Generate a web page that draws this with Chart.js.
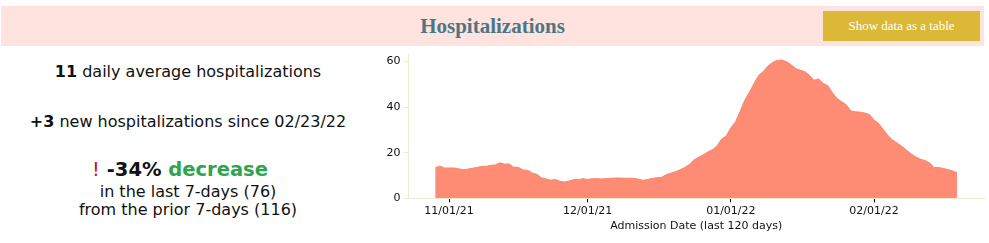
<!DOCTYPE html>
<html>
<head>
<meta charset="utf-8">
<title>Hospitalizations</title>
<script src="https://cdn.jsdelivr.net/npm/chart.js@4.4.1/dist/chart.umd.min.js"></script>
<style>
    body {
        margin: 0;
        width: 989px;
        height: 243px;
        background: #fff;
        position: relative;
        overflow: hidden;
        font-family: 'DejaVu Sans', Verdana, sans-serif;
        color: #111;
    }
    .header {
        position: absolute;
        left: 1px;
        top: 6px;
        width: 983px;
        height: 40px;
        background: #fee3de;
    }
    .header h2 {
        margin: 0;
        text-align: center;
        line-height: 40px;
        font: bold 21px/40px 'Liberation Serif', serif;
        color: #4d7584;
    }
    .table-btn {
        position: absolute;
        left: 822px;
        top: 5px;
        width: 157px;
        height: 30px;
        background: #dbb835;
        color: #fff;
        text-align: center;
        font: 13px/30px 'Liberation Serif', serif;
    }
    .stat {
        position: absolute;
        left: 0;
        width: 376px;
        text-align: center;
        font-size: 16px;
        line-height: 20px;
    }
    .stat b { font-weight: bold; }
    .big { width: 360px; font-size: 19.5px; line-height: 24px; font-weight: bold; }
    .alert { color: #c8102e; font-weight: normal; }
    .down { color: #2ea44f; }
    .chart-box {
        position: absolute;
        left: 380px;
        top: 44px;
        width: 605px;
        height: 199px;
    }
</style>
</head>
<body>
<div class="header">
    <h2>Hospitalizations</h2>
    <div class="table-btn">Show data as a table</div>
</div>

<div class="stat" style="top:62px"><b>11</b> daily average hospitalizations</div>
<div class="stat" style="top:112px"><b>+3</b> new hospitalizations since 02/23/22</div>
<div class="stat big" style="top:158px"><span class="alert">!</span> -34% <span class="down">decrease</span></div>
<div class="stat" style="top:182px">in the last 7-days (76)</div>
<div class="stat" style="top:200px">from the prior 7-days (116)</div>

<div class="chart-box"><canvas id="hospChart"></canvas></div>

<script>
// 7-day average hospitalizations, one value per day starting 10/29/21
const firstDay = -3; // days relative to 11/01/21
const hospitalizations = [
    13.4, 14.1, 13.3, 13.3, 13.3, 13.0, 12.5, 12.8, 13.2, 13.5,
    14.0, 14.0, 14.5, 14.6, 15.6, 15.0, 15.1, 13.6, 13.6, 12.4,
    12.3, 11.1, 10.5, 9.0, 8.5, 7.9, 8.3, 7.5, 7.1, 7.6,
    8.2, 8.2, 8.6, 8.3, 8.6, 8.6, 8.5,
    8.6, 8.8, 8.9, 8.9, 8.8, 8.8, 8.75, 8.4, 7.9, 8.3,
    8.7, 9.0, 9.2, 10.3, 11.0, 11.7, 12.5, 13.5, 14.8, 16.8,
    18.0, 19.0, 20.3, 21.3, 23.0, 26.0, 27.3, 31.0, 33.5, 38.0,
    43.0, 46.5, 50.3, 53.9, 55.6, 58.0, 59.6, 60.5, 60.7, 60.0,
    58.7, 57.0, 56.2, 55.6, 54.0, 51.8, 52.4, 50.4, 49.4, 46.3,
    43.8, 42.4, 41.0, 38.3, 38.0, 37.8, 37.4, 36.8, 34.4, 32.8,
    30.2, 27.6, 25.6, 24.3, 22.8, 21.2, 19.5, 18.2, 17.2, 16.6,
    15.6, 13.5, 13.5, 13.1, 12.6, 12.0, 11.1
];

// x axis ticks (days relative to 11/01/21) and their labels
const xTickDays = [0, 30, 61, 92];
const xTickLabels = ['11/01/21', '12/01/21', '01/01/22', '02/01/22'];
const yTicks = [0, 20, 40, 60];

const axisColor = '#efedcf';
const textColor = '#111';

const points = hospitalizations.map((v, i) => ({ x: firstDay + i, y: v }));

new Chart(document.getElementById('hospChart'), {
    type: 'line',
    data: {
        datasets: [{
            data: points,
            fill: 'origin',
            backgroundColor: '#fe8b73',
            borderColor: '#f7866e',
            borderWidth: 1,
            pointRadius: 0,
            tension: 0
        }]
    },
    options: {
        responsive: true,
        maintainAspectRatio: false,
        animation: false,
        layout: { padding: { top: 2, right: 1, left: 0, bottom: 0 } },
        plugins: {
            legend: { display: false },
            tooltip: { enabled: false }
        },
        scales: {
            x: {
                type: 'linear',
                min: -8.8,
                max: 115.8,
                afterFit: (scale) => { scale.height = 44.7; },
                afterBuildTicks: (scale) => {
                    scale.ticks = xTickDays.map(v => ({ value: v }));
                },
                ticks: {
                    color: textColor,
                    font: { family: "'DejaVu Sans', Verdana, sans-serif", size: 11 },
                    padding: 2,
                    maxRotation: 0,
                    autoSkip: false,
                    callback: (value) => xTickLabels[xTickDays.indexOf(value)]
                },
                grid: {
                    drawOnChartArea: false,
                    color: '#000',
                    tickLength: 4
                },
                border: { color: axisColor, width: 1 },
                title: {
                    display: true,
                    text: 'Admission Date (last 120 days)',
                    color: textColor,
                    font: { family: "'DejaVu Sans', Verdana, sans-serif", size: 11 },
                    padding: { top: 0, bottom: 10 }
                }
            },
            y: {
                min: 0,
                max: 63.5,
                afterFit: (scale) => { scale.width = 28.4; },
                afterBuildTicks: (scale) => {
                    scale.ticks = yTicks.map(v => ({ value: v }));
                },
                ticks: {
                    color: textColor,
                    font: { family: "'DejaVu Sans', Verdana, sans-serif", size: 11 },
                    padding: 3
                },
                grid: {
                    drawOnChartArea: false,
                    color: axisColor,
                    tickLength: 5
                },
                border: { color: axisColor, width: 1 }
            }
        }
    }
});
</script>
</body>
</html>
